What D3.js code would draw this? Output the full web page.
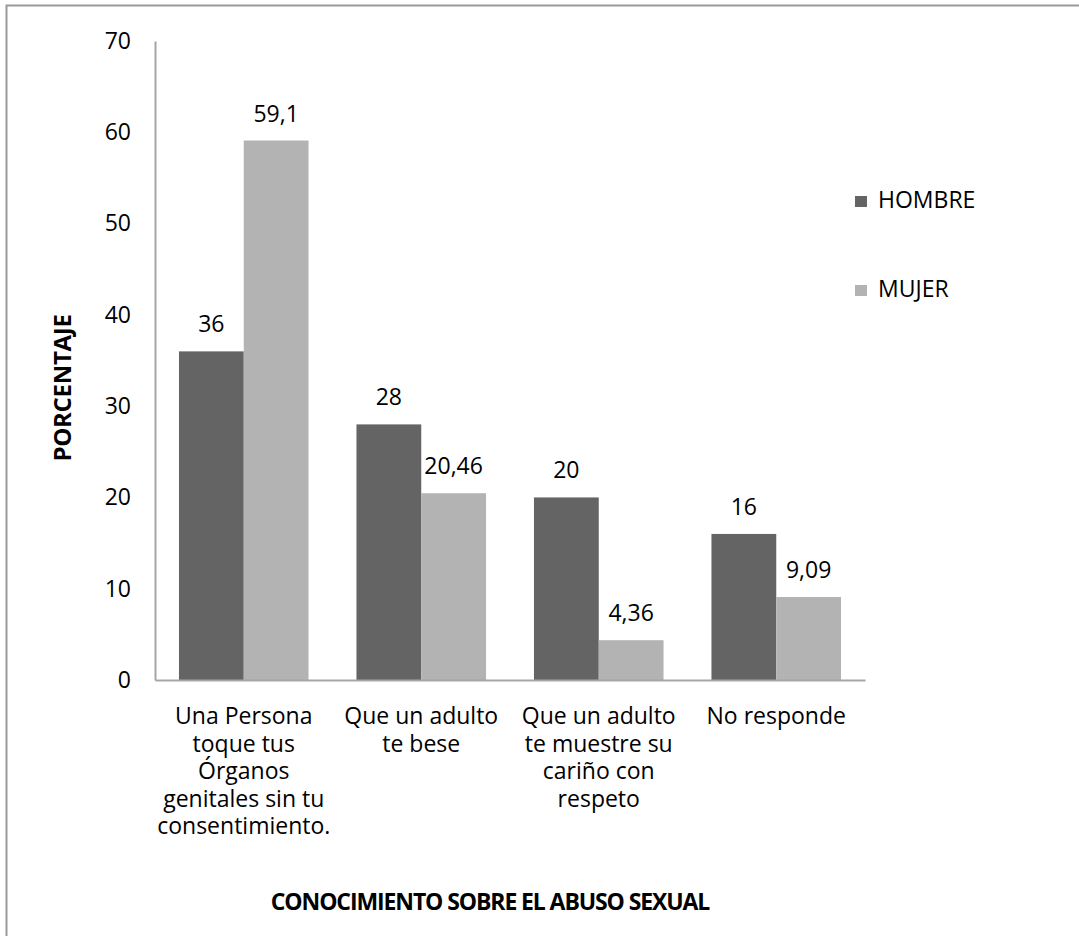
<!DOCTYPE html>
<html lang="es">
<head>
<meta charset="UTF-8">
<title>Conocimiento sobre el abuso sexual</title>
<script src="https://d3js.org/d3.v7.min.js"></script>
<style>
  body { margin: 0; background: #fff; }
  svg text { font-family: "Open Sans", sans-serif; fill: #000; }
</style>
</head>
<body>
<svg id="chart" width="1079" height="936"></svg>
<script>
// categories (one entry per group, lines of the wrapped label)
let categories = ['c1', 'c2', 'c3', 'c4'];
let categoryLines = [
  ['Una Persona', 'toque tus', 'Órganos', 'genitales sin tu', 'consentimiento.'],
  ['Que un adulto', 'te bese'],
  ['Que un adulto', 'te muestre su', 'cariño con', 'respeto'],
  ['No responde']
];
let series = ['HOMBRE', 'MUJER'];
let hombre = [36, 28, 20, 16];
let mujer = [59.1, 20.46, 4.36, 9.09];
let hombreLabels = ['36', '28', '20', '16'];
let mujerLabels = ['59,1', '20,46', '4,36', '9,09'];
let yTicks = [0, 10, 20, 30, 40, 50, 60, 70];
let colors = ['#646464', '#b3b3b3'];

let svg = d3.select('#chart');
let fs = '23px';

// outer frame (only top/left visible in the original crop)
svg.append('rect')
  .attr('x', 6.5).attr('y', 5.5)
  .attr('width', 1100).attr('height', 1000)
  .attr('fill', 'none')
  .attr('stroke', '#9a9a9a')
  .attr('stroke-width', 2);

let x = d3.scaleBand().domain(categories).range([155, 865])
  .paddingInner(0.27).paddingOuter(0.135);
let xs = d3.scaleBand().domain(series).range([0, x.bandwidth()]);
let y = d3.scaleLinear().domain([0, 70]).range([680, 41]);

let rows = categories.map((c, i) => ({ cat: c, vals: [hombre[i], mujer[i]], labs: [hombreLabels[i], mujerLabels[i]] }));

// bars
let groups = svg.append('g').selectAll('g')
  .data(rows).join('g')
  .attr('transform', d => `translate(${x(d.cat)},0)`);

groups.selectAll('rect')
  .data(d => d.vals.map((v, j) => ({ s: series[j], v: v, lab: d.labs[j], j: j })))
  .join('rect')
  .attr('x', d => xs(d.s))
  .attr('y', d => y(d.v))
  .attr('width', xs.bandwidth())
  .attr('height', d => y(0) - y(d.v))
  .attr('fill', d => colors[d.j]);

groups.selectAll('text.val')
  .data(d => d.vals.map((v, j) => ({ s: series[j], v: v, lab: d.labs[j] })))
  .join('text')
  .attr('class', 'val')
  .attr('x', d => xs(d.s) + xs.bandwidth() / 2)
  .attr('y', d => y(d.v) - 19)
  .attr('text-anchor', 'middle')
  .style('font-size', fs)
  .text(d => d.lab);

// y axis
let yAxis = svg.append('g')
  .attr('transform', 'translate(155,0)')
  .call(d3.axisLeft(y).tickValues(yTicks).tickSize(0).tickPadding(24).tickFormat(d3.format('d')));
yAxis.select('.domain').attr('stroke', '#a6a6a6').attr('stroke-width', 2);
yAxis.selectAll('text').style('font-size', fs).style('font-family', '"Open Sans", sans-serif').attr('fill', '#000');

// x axis
let xAxis = svg.append('g')
  .attr('transform', 'translate(0,680)')
  .call(d3.axisBottom(x).tickSize(0).tickFormat(''));
xAxis.select('.domain').attr('stroke', '#a6a6a6').attr('stroke-width', 2);

xAxis.selectAll('.tick text').remove();
xAxis.selectAll('.tick').each(function (d, i) {
  let t = d3.select(this).append('text')
    .attr('text-anchor', 'middle')
    .attr('y', 44)
    .style('font-size', fs)
    .attr('fill', '#000');
  categoryLines[i].forEach((line, k) => {
    t.append('tspan').attr('x', 0).attr('dy', k === 0 ? 0 : 27.5).text(line);
  });
});

// axis titles
svg.append('text')
  .attr('transform', 'translate(71,388) rotate(-90)')
  .attr('text-anchor', 'middle')
  .style('font-size', '24px')
  .style('font-weight', 'bold')
  .style('letter-spacing', '-0.3px')
  .text('PORCENTAJE');

svg.append('text')
  .attr('x', 490).attr('y', 910)
  .attr('text-anchor', 'middle')
  .style('font-size', '23px')
  .style('font-weight', 'bold')
  .style('letter-spacing', '-1.1px')
  .text('CONOCIMIENTO SOBRE EL ABUSO SEXUAL');

// legend
let legend = svg.append('g').selectAll('g')
  .data(series).join('g')
  .attr('transform', (d, i) => `translate(855,${196 + i * 89})`);
legend.append('rect')
  .attr('width', 12).attr('height', 11)
  .attr('fill', (d, i) => colors[i]);
legend.append('text')
  .attr('x', 23).attr('y', 12)
  .style('font-size', fs)
  .text(d => d);
</script>
</body>
</html>
